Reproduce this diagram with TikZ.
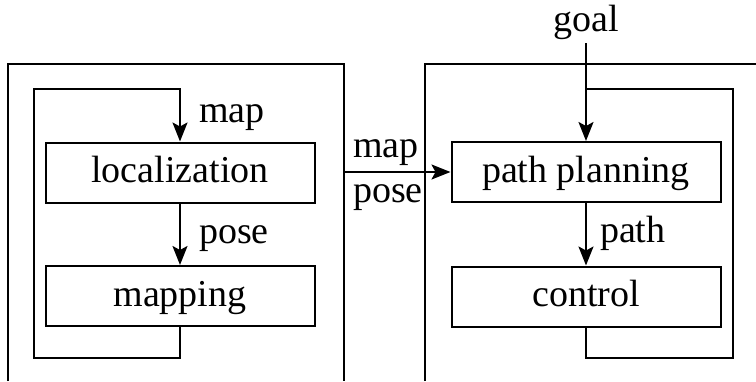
\documentclass[tikz,border=0pt]{standalone}
\usepackage{fontspec}
\setmainfont{Liberation Serif}
\usetikzlibrary{arrows.meta}
\begin{document}
\begin{tikzpicture}[x=1pt,y=-1pt,
  line width=2pt,
  >={Stealth[length=19pt,width=15pt,inset=4pt]},
  every node/.style={font=\fontsize{38}{45}\selectfont},
  block/.style={draw,inner sep=0pt,minimum width=269pt,minimum height=60pt,
    text height=26pt,text depth=6pt},
  lbl/.style={inner sep=0pt,anchor=base west}]
  \useasboundingbox (0,0) rectangle (756,381);

  % frame corners
  \coordinate (lfbl) at (8,381);
  \coordinate (lftl) at (8,64);
  \coordinate (lftr) at (344,64);
  \coordinate (lfbr) at (344,381);
  \coordinate (rfbl) at (425,381);
  \coordinate (rftl) at (425,64);
  \coordinate (rftr) at (756,64);
  \coordinate (lfout) at (344,172);
  \coordinate (goalin) at (586,43);

  % left module
  \node[block] (loc) at (180,172.5) {localization};
  \node[block] (mapg) at (180,296) {mapping};
  % right module
  \node[block] (plan) at (586,172) {path planning};
  \node[block] (ctrl) at (586,296.5) {control};

  % frames
  \draw (lfbl) -- (lftl) -- (lftr) -- (lfbr);
  \draw (rfbl) -- (rftl) -- (rftr);

  % left loop
  \draw[->] (mapg.south) -- (180,358) -| (34,89) -| (loc.north);
  \draw[->] (loc.south) -- (mapg.north);
  % right loop
  \draw (ctrl.south) -- (586,358) -| (733,89) -- (586,89);
  \draw[->] (goalin) -- (plan.north);
  \draw[->] (plan.south) -- (ctrl.north);
  % between modules
  \draw[->] (lfout) -- (plan.west);

  % labels
  \node[inner sep=0pt,anchor=base] (goal) at (586,31) {goal};
  \node[lbl] (lmap) at (198,122) {map};
  \node[lbl] (lpose) at (198,243) {pose};
  \node[lbl] (mmap) at (352,157) {map};
  \node[lbl] (mpose) at (352,202) {pose};
  \node[lbl] (lpath) at (599,242) {path};
\end{tikzpicture}
\end{document}
